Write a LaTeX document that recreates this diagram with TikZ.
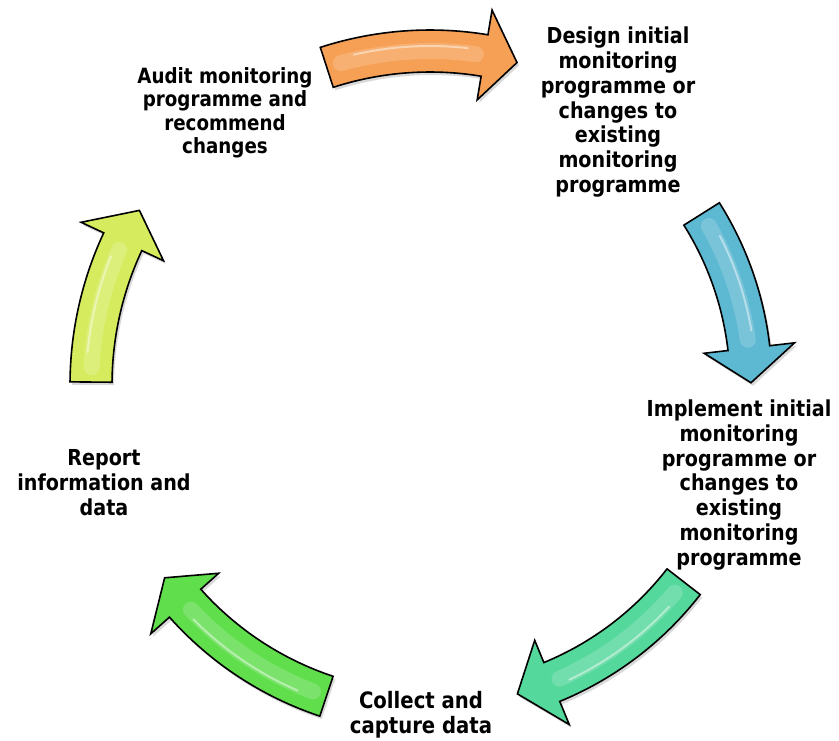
\documentclass[tikz,border=0pt]{standalone}
\usepackage{fontspec}
\newfontfamily\labelfont{DejaVu Sans}[FakeStretch=0.87]
\definecolor{cOrange}{HTML}{F6A055}
\definecolor{cBlue}{HTML}{5DB8D2}
\definecolor{cTeal}{HTML}{55D89C}
\definecolor{cGreen}{HTML}{60DE4C}
\definecolor{cYellow}{HTML}{D6EC5E}
\tikzset{
  lbl/.style={font=\labelfont\bfseries\fontsize{22}{24.8}\selectfont, align=center, inner sep=0pt, text=black},
  arrowbody/.style={draw=black, line width=1.6pt, line join=miter},
  arrowshadow/.style={fill=black, opacity=0.15},
}
\newcommand{\arrowshape}{({\ta}:{\r+21}) arc[start angle=\ta, end angle=\tb, radius=\r+21]
  -- ({\tb}:{\r+46}) -- ({\tc}:{\r}) -- ({\tb}:{\r-45}) -- ({\tb}:{\r-21})
  arc[start angle=\tb, end angle=\ta, radius=\r-21] -- cycle}
\begin{document}
\begin{tikzpicture}[x=1pt,y=1pt]
\fill[white] (0,0) rectangle (839,-740);
\useasboundingbox (0,0) rectangle (839,-740);
\begin{scope}[shift={(430,-385)}]
\foreach \col/\r/\ta/\tb/\tc in {cOrange/334/108/80.6/74.9, cBlue/321/32.2/6.6/0.4, cTeal/321/-37.8/-67.7/-74.2, cGreen/328/-108.4/-138.3/-144, cYellow/339/179.5/155/149}{
  \fill[arrowshadow, shift={(2,-3)}] \arrowshape;
  \path[arrowbody, fill=\col] \arrowshape;
  \draw[color=\col!50!white, line width=16pt, opacity=0.35, line cap=round]
    ({\ta-2.5}:{\r}) arc[start angle=\ta-2.5, end angle=\tb+1.5, radius=\r];
  \draw[color=white, line width=2pt, opacity=0.45, line cap=round]
    ({\ta-5}:{\r+5}) arc[start angle=\ta-5, end angle=\tb+3, radius=\r+5];
}
\end{scope}
\node[lbl] (design) at (618,-112.2) {Design initial\\monitoring\\programme or\\changes to\\existing\\monitoring\\programme};
\node[lbl] (implement) at (739,-485) {Implement initial\\monitoring\\programme or\\changes to\\existing\\monitoring\\programme};
\node[lbl, font=\labelfont\bfseries\fontsize{22.6}{25}\selectfont] (collect) at (421,-714.7) {Collect and\\capture data};
\node[lbl] (report) at (104,-482.5) {Report\\information and\\data};
\node[lbl, font=\labelfont\bfseries\fontsize{21}{23.3}\selectfont] (audit) at (225,-112.7) {Audit monitoring\\programme and\\recommend\\changes};
\end{tikzpicture}
\end{document}
